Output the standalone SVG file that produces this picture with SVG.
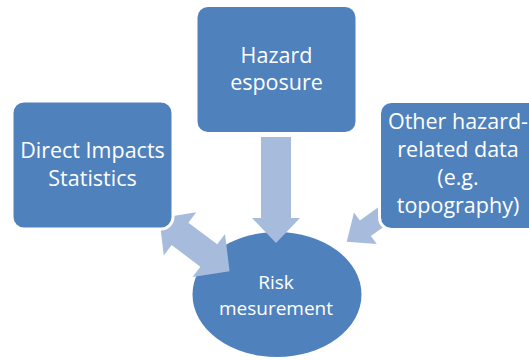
<svg xmlns="http://www.w3.org/2000/svg" width="529" height="360" viewBox="0 0 529 360">
  <style>
    .box { fill: #4F81BD; stroke: #FFFFFF; stroke-width: 3; }
    .ell { fill: #4F81BD; }
    .arrow { fill: #A7BCDC; }
    .lbl { font-family: "Open Sans", "Noto Sans", sans-serif; font-size: 21.5px; fill: #FFFFFF; text-anchor: middle; }
    .lbl-s { font-family: "Open Sans", "Noto Sans", sans-serif; font-size: 19px; fill: #FFFFFF; text-anchor: middle; }
  </style>
  <rect width="529" height="360" fill="#FFFFFF"/>
  <g id="risk">
    <ellipse class="ell" cx="277" cy="294.5" rx="84.5" ry="62.5"/>
    <text class="lbl-s" x="276" y="289">Risk</text>
    <text class="lbl-s" x="276" y="314.5">mesurement</text>
  </g>
  <g id="connectors">
    <polygon class="arrow" points="261,137 291,137 291,218 300,218 276,243 252,218 261,218"/>
    <polygon class="arrow" points="-44,0 -18,-27 -18,-14 18,-14 18,-27 44,0 18,27 18,14 -18,14 -18,27" transform="translate(194.4,244.7) rotate(37)"/>
    <polygon class="arrow" points="0,0 -23,-19.5 -23,-9.5 -75,-9.5 -75,9.5 -23,9.5 -23,19.5" transform="translate(346.7,241.7) rotate(144.3)"/>
  </g>
  <g id="hazard">
    <rect class="box" x="196" y="5.5" width="161" height="128" rx="12"/>
    <text class="lbl" x="276.5" y="63">Hazard</text>
    <text class="lbl" x="276.5" y="90">esposure</text>
  </g>
  <g id="direct">
    <rect class="box" x="12" y="101" width="161" height="128" rx="12"/>
    <text class="lbl" x="92.5" y="158">Direct Impacts</text>
    <text class="lbl" x="92.5" y="186">Statistics</text>
  </g>
  <g id="other">
    <rect class="box" x="379.5" y="101.5" width="161" height="128" rx="12"/>
    <text class="lbl" x="458" y="129">Other hazard-</text>
    <text class="lbl" x="458" y="157">related data</text>
    <text class="lbl" x="458" y="185">(e.g.</text>
    <text class="lbl" x="458" y="213">topography)</text>
  </g>
</svg>
